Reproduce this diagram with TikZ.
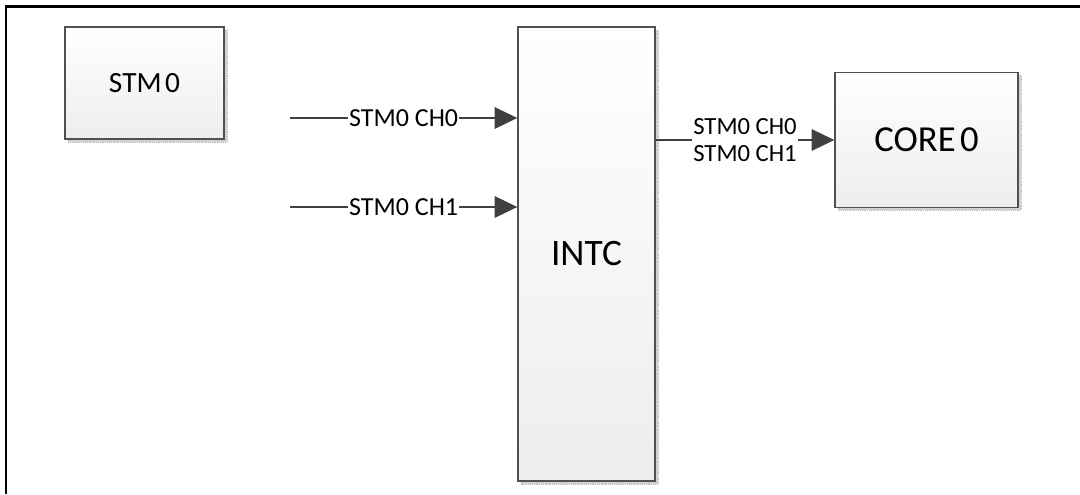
\documentclass[tikz,border=0pt]{standalone}
\usepackage{fontspec}
\setmainfont{Carlito}
\usetikzlibrary{arrows.meta,positioning}
\definecolor{edge}{HTML}{505050}
\definecolor{wire}{HTML}{404040}
\tikzset{
  x=0.75pt, y=-0.75pt,
  block/.style={draw=edge, line width=1pt, top color=white, bottom color=black!7,
    inner sep=0pt, font=\fontsize{22}{26}\selectfont},
  shade box/.style={fill=black!18, draw=black!30, densely dotted, line width=0.4pt},
  signal/.style={draw=wire, line width=1.5pt, -{Triangle[length=17pt,width=16pt]}},
  tag/.style={fill=white, inner sep=1pt, font=\fontsize{19.5}{21}\selectfont},
}
\begin{document}
\begin{tikzpicture}
\useasboundingbox (0,0) rectangle (1080,494);
% frame
\draw[line width=2pt] (6,494) -- (6,6.5) -- (1080,6.5);

% drop shadows behind the blocks
\filldraw[shade box] (68,30) rectangle (227,142);
\filldraw[shade box] (521,30) rectangle (658,484);
\filldraw[shade box] (838,75) rectangle (1021,210);

% blocks
\node[block, minimum width=119.25pt, minimum height=84pt] (stm) at (144.5,83) {STM\hspace{0.12em}0};
\node[block, minimum width=102.75pt, minimum height=340.5pt, font=\fontsize{28}{32}\selectfont] (intc) at (586.5,254) {INTC};
\node[block, minimum width=137.25pt, minimum height=101.25pt, font=\fontsize{27.5}{31}\selectfont] (core) at (926.5,140) {CORE\hspace{0.12em}0};

% interrupt request lines
\coordinate (ch0) at (290,118);
\coordinate (ch1) at (290,207);
\draw[signal] (ch0) -- node[tag] {STM0 CH0} (intc.west |- ch0);
\draw[signal] (ch1) -- node[tag] {STM0 CH1} (intc.west |- ch1);

% routed output to the core
\draw[signal] (intc.east |- core.west) -- node[tag, align=left, inner sep=1pt,
  font=\fontsize{18.5}{20.5}\selectfont] {STM0 CH0\\STM0 CH1} (core.west);
\end{tikzpicture}
\end{document}
